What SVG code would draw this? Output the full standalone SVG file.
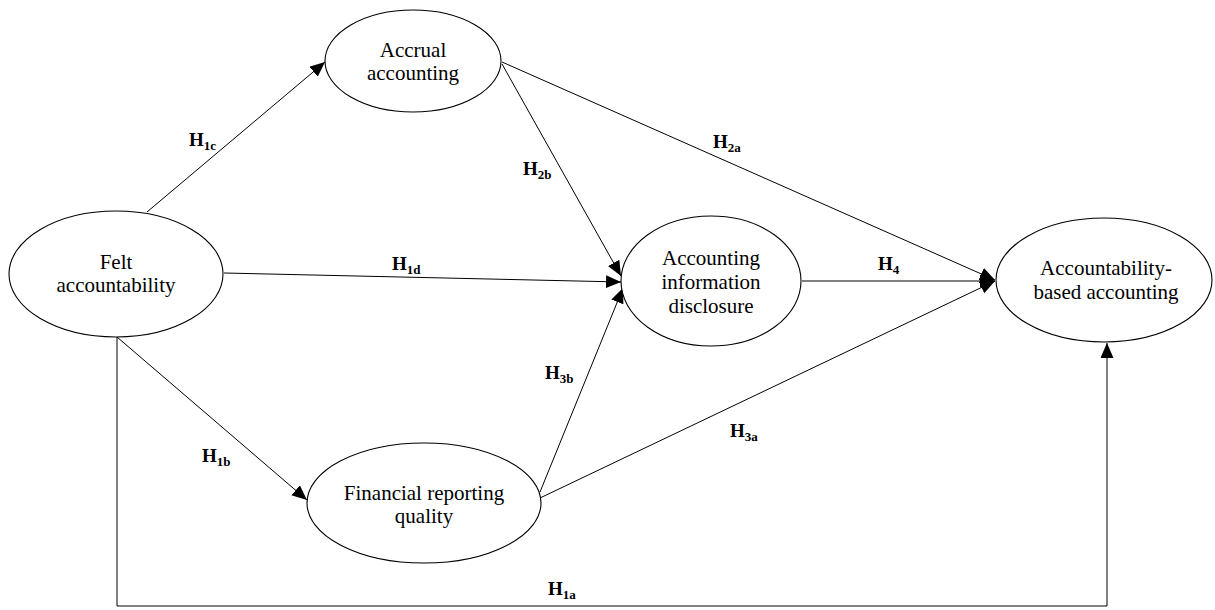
<svg xmlns="http://www.w3.org/2000/svg" width="1215" height="610" viewBox="0 0 1215 610">
<style>
.node ellipse{fill:#fff;stroke:#000;stroke-width:1.1}
.node text{font-family:"Liberation Serif","Times New Roman",serif;font-size:21px;fill:#000;text-anchor:middle}
.conn line,.conn polyline{stroke:#000;stroke-width:1;fill:none;marker-end:url(#ah)}
.lbl{font-family:"Liberation Serif","Times New Roman",serif;font-size:19px;font-weight:bold;fill:#000}
.lbl tspan{font-size:13px}
</style>
<defs>
<marker id="ah" markerUnits="userSpaceOnUse" markerWidth="16" markerHeight="14" refX="15" refY="6.5" orient="auto">
<path d="M0,0 L15,6.5 L0,13 z" fill="#000"/>
</marker>
</defs>
<g class="conn">
<line x1="147" y1="212" x2="325" y2="62"/>
<line x1="224" y1="273" x2="621" y2="282"/>
<line x1="117" y1="337" x2="307" y2="500"/>
<polyline points="117,337 117,606 1107,606 1107,343"/>
<line x1="502" y1="62" x2="995" y2="280"/>
<line x1="502" y1="64" x2="621" y2="276"/>
<line x1="540" y1="492" x2="623" y2="288"/>
<line x1="540" y1="498" x2="995" y2="281"/>
<line x1="802" y1="281" x2="995" y2="281"/>
</g>
<g id="felt" class="node"><ellipse cx="116" cy="274" rx="107" ry="63"/><text x="116" y="269">Felt</text><text x="116" y="292">accountability</text></g>
<g id="accrual" class="node"><ellipse cx="413" cy="61" rx="88" ry="51"/><text x="413" y="57">Accrual</text><text x="413" y="80">accounting</text></g>
<g id="aid" class="node"><ellipse cx="711" cy="281" rx="90" ry="65"/><text x="711" y="265">Accounting</text><text x="711" y="289">information</text><text x="711" y="313">disclosure</text></g>
<g id="aba" class="node"><ellipse cx="1104" cy="280" rx="108" ry="62"/><text x="1106" y="275">Accountability-</text><text x="1106" y="299">based accounting</text></g>
<g id="frq" class="node"><ellipse cx="424" cy="503" rx="117" ry="60"/><text x="424" y="500">Financial reporting</text><text x="424" y="523">quality</text></g>
<g id="labels">
<text class="lbl" x="189" y="146">H<tspan dy="4">1c</tspan></text>
<text class="lbl" x="713" y="148">H<tspan dy="4">2a</tspan></text>
<text class="lbl" x="523" y="175">H<tspan dy="4">2b</tspan></text>
<text class="lbl" x="392" y="270">H<tspan dy="4">1d</tspan></text>
<text class="lbl" x="878" y="270">H<tspan dy="4">4</tspan></text>
<text class="lbl" x="545" y="379">H<tspan dy="4">3b</tspan></text>
<text class="lbl" x="730" y="437">H<tspan dy="4">3a</tspan></text>
<text class="lbl" x="202" y="462">H<tspan dy="4">1b</tspan></text>
<text class="lbl" x="548" y="595">H<tspan dy="4">1a</tspan></text>
</g>
</svg>
